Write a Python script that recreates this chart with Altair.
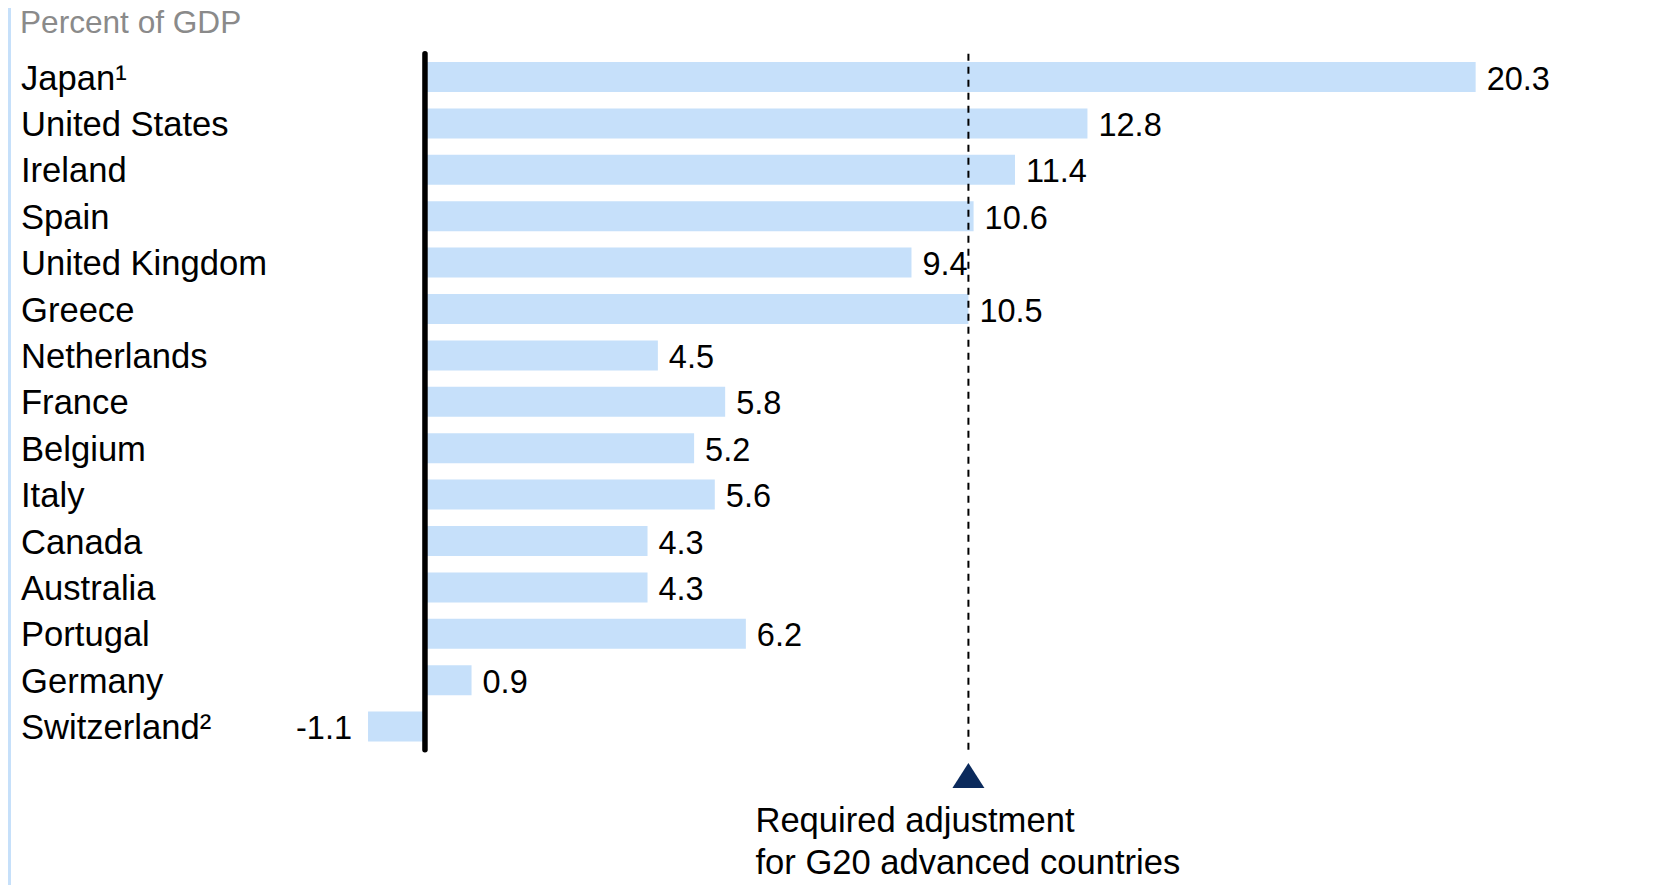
import altair as alt
import pandas as pd

countries = ["Japan¹", "United States", "Ireland", "Spain", "United Kingdom", "Greece",
             "Netherlands", "France", "Belgium", "Italy", "Canada", "Australia",
             "Portugal", "Germany", "Switzerland²"]
values = [20.3, 12.8, 11.4, 10.6, 9.4, 10.5, 4.5, 5.8, 5.2, 5.6, 4.3, 4.3, 6.2, 0.9, -1.1]
required_adjustment = 10.5
unit_label = "Percent of GDP"
note_lines = ["Required adjustment", "for G20 advanced countries"]

df = pd.DataFrame({"country": countries, "value": values})
df["label"] = [f"{v:.1f}" for v in values]
ref = pd.DataFrame({"v": [required_adjustment]})
zero = pd.DataFrame({"v": [0.0]})
title_df = pd.DataFrame({"t": [unit_label]})

W, H = 1640, 696
PT, PB = 45.8, 135.2
FONT = "Liberation Sans"
BAR = "#C6E0FA"

x_scale = alt.Scale(domain=[-8.056, 23.63], nice=False, zero=False)
y_enc = alt.Y("country:N", sort=countries, axis=None,
              scale=alt.Scale(paddingInner=0.353, paddingOuter=0.1765))

bars = alt.Chart(df).mark_bar(color=BAR).encode(
    x=alt.X("value:Q", scale=x_scale, axis=None, stack=None),
    x2=alt.datum(0),
    y=y_enc,
)

dashed = alt.Chart(ref).mark_rule(color="black", strokeWidth=2, strokeDash=[7, 6]).encode(
    x=alt.X("v:Q", scale=x_scale, axis=None)
)

zero_line = alt.Chart(zero).mark_rule(color="black", strokeWidth=5.5, strokeCap="round").encode(
    x=alt.X("v:Q", scale=x_scale, axis=None)
)

triangle = alt.Chart(ref).mark_point(
    shape="M0,-0.78L1,0.78L-1,0.78Z", filled=True, size=1024, color="#0B2A5C", opacity=1
).encode(x=alt.X("v:Q", scale=x_scale, axis=None), y=alt.value(721.7))

note = alt.Chart(ref).mark_text(
    text=note_lines, align="left", baseline="alphabetic", dx=-213, fontSize=34.6,
    lineHeight=42, font=FONT, color="black"
).encode(x=alt.X("v:Q", scale=x_scale, axis=None), y=alt.value(778.2))

country_labels = alt.Chart(df).mark_text(
    align="left", baseline="alphabetic", dy=12.5, fontSize=34.6, font=FONT, color="black"
).encode(x=alt.value(13), y=y_enc, text="country:N")

pos_labels = alt.Chart(df).transform_filter("datum.value >= 0").mark_text(
    align="left", baseline="alphabetic", dx=11, dy=12.5, fontSize=32.5, font=FONT, color="black"
).encode(x=alt.X("value:Q", scale=x_scale, axis=None), y=y_enc, text="label:N")

neg_labels = alt.Chart(df).transform_filter("datum.value < 0").mark_text(
    align="right", baseline="alphabetic", dx=-16, dy=12.5, fontSize=32.5, font=FONT, color="black"
).encode(x=alt.X("value:Q", scale=x_scale, axis=None), y=y_enc, text="label:N")

unit_text = alt.Chart(title_df).mark_text(
    align="left", baseline="alphabetic", fontSize=31.6, font=FONT, color="#8A8A8A"
).encode(x=alt.value(12), y=alt.value(33 - 53.8), text="t:N")

left_border = alt.Chart(zero).mark_rule(color=BAR, strokeWidth=4).encode(
    x=alt.value(1), y=alt.value(-PT), y2=alt.value(H + PB)
)

chart = alt.layer(
    left_border, bars, dashed, zero_line, triangle, note,
    country_labels, pos_labels, neg_labels, unit_text
).properties(
    width=W, height=H,
    padding={"left": 0, "top": PT, "right": 0, "bottom": PB},
    autosize=alt.AutoSizeParams(type="none"),
).configure_view(stroke=None)

chart.save("out.html", embed_options={"renderer": "svg", "actions": False})
